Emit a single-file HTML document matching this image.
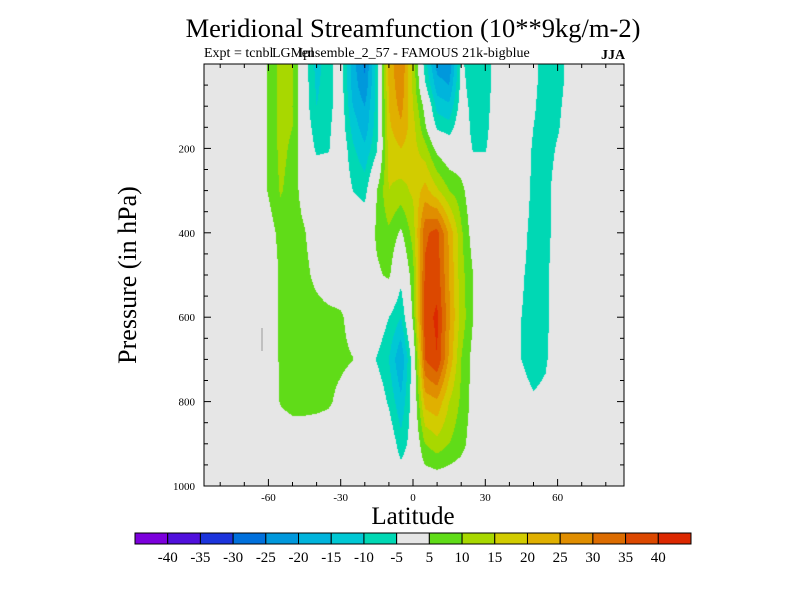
<!DOCTYPE html>
<html><head><meta charset="utf-8"><style>
body{margin:0;background:#fff;}
#wrap{position:relative;width:800px;height:600px;font-family:"Liberation Serif",serif;}
.t{position:absolute;white-space:nowrap;color:#000;}
</style></head><body>
<div id="wrap">
<div class="t" style="left:0;width:826px;text-align:center;top:13px;font-size:26.5px;">Meridional Streamfunction (10**9kg/m-2)</div>
<div class="t" style="left:204px;top:46px;font-size:14px;">Expt = tcnbl&nbsp;&nbsp;&nbsp;&nbsp;&nbsp;&nbsp;&nbsp;lensemble_2_57 - FAMOUS 21k-bigblue</div>
<div class="t" style="left:272px;top:46px;font-size:14px;">LGMpl</div>
<div class="t" style="left:601px;top:48px;font-size:14px;font-weight:bold;">JJA</div>
<div class="t" style="left:128px;top:275px;font-size:26px;transform:translate(-50%,-50%) rotate(-90deg);">Pressure (in hPa)</div>
<div class="t" style="left:0;width:826px;text-align:center;top:503px;font-size:25px;">Latitude</div>
<canvas id="cv" width="420" height="422" style="position:absolute;left:204px;top:64px;"></canvas>
<svg id="sv" width="800" height="600" style="position:absolute;left:0;top:0;"></svg>
</div>
<script>
const lats=[-70,-65,-60,-55,-50,-45,-40,-35,-30,-25,-20,-15,-10,-5,0,5,10,15,20,25,30,35,40,45,50,55,60,65,70];
const plevs=[0,50,100,150,200,300,400,500,600,700,800,900,1000];
const field=[
[0,0,5.5,12,10,-2,-12,-7,-2,-18,-26,-8,22,30,14,-8,-22,-24,-4,-8,-9,-1,0,0,-3,-9,-8,-2,0],
[0,0,5.5,12,10,-2,-11,-7,-2,-17,-24,-8,21,29,14,-4,-18,-20,-3,-8,-8.5,-1,0,0,-3,-9,-8,-2,0],
[0,0,5.5,12,10,-2,-10,-7,-1,-15,-20,-8,20,27,15,3,-12,-14,-2,-7,-8,0,0,0,-4,-9,-7,-1,0],
[0,0,5.5,12,10,-1,-8,-6,-1,-12,-18,-7,19,24,17,6,-6,-8,0,-7,-7,0,0,0,-5,-9,-6,0,0],
[0,0,5.5,11.5,9,0,-6,-5.5,0,-9,-14,-6,17,20,17,12,3,0,0,-5.5,-5.5,0,0,0,-6,-9,-4,0,0],
[0,0,5.5,10.5,8,2,0,0,0,-5,-7,5,15,13,16,22,16,10,7,0,0,0,0,0,-7,-8,-1,0,0],
[0,0,2,7,8,5.5,0,0,0,0,0,6,9,4,12,34,37,24,11,2,0,0,0,-2,-8,-8,-1,0,0],
[0,0,0,6,8,7,3,0,0,0,0,4,6,-3,8,36,38,25,12,5,0,0,0,-4,-8,-7,0,0,0],
[0,0,0,6,8,8,8,7,6,2,0,0,-5,-10,6,38,41,26,13,5,0,0,0,-5,-8,-7,0,0,0],
[0,0,0,6,8,8,8,7,6.5,5.2,0,-5.5,-10,-20,-2,35,40,24,10,3,0,0,0,-5,-8,-6,0,0,0],
[0,0,0,5.5,7.5,7.5,7,6,3,0,0,0,-6,-14,-2,22,24,15,9,3,0,0,0,-2,-4,-3,0,0,0],
[0,0,0,0,0,0,0,0,0,0,0,0,0,-8,-2,10,13,10,7,2,0,0,0,0,0,0,0,0,0],
[0,0,0,0,0,0,0,0,0,0,0,0,0,0,0,0,0,0,0,0,0,0,0,0,0,0,0,0,0]];
const levels=[-40,-35,-30,-25,-20,-15,-10,-5,5,10,15,20,25,30,35,40];
const colors=["#7c00dc","#5010dc","#1c34dc","#0070dc","#0098dc","#00b4dc","#00c8d4","#00d8b4","#e6e6e6","#60dc18","#a8d800","#d2cc00","#e0b000","#e08e00","#dc6c00","#dc4800","#dc2800"];
const xTicks=[-60,-30,0,30,60];
const yTicks=[200,400,600,800,1000];
const X0=204,X1=624,Y0=64,Y1=486;
function xS(lat){return 413+lat*2.41;}
function yS(p){return Y0+(p/1000)*(Y1-Y0);}
function latAt(px){return (px-413)/2.41;}
function pAt(py){return (py-Y0)/(Y1-Y0)*1000;}
function idx(arr,v){for(let i=0;i<arr.length-1;i++){if(v<=arr[i+1])return i;}return arr.length-2;}
function val(lat,p){
  if(lat<lats[0]||lat>lats[lats.length-1])return 0;
  const i=idx(lats,lat),j=idx(plevs,p);
  const tx=(lat-lats[i])/(lats[i+1]-lats[i]),ty=(p-plevs[j])/(plevs[j+1]-plevs[j]);
  const a=field[j][i],b=field[j][i+1],c=field[j+1][i],d=field[j+1][i+1];
  return (a*(1-tx)+b*tx)*(1-ty)+(c*(1-tx)+d*tx)*ty;
}
function colorOf(v){let k=0;while(k<levels.length&&v>=levels[k])k++;return colors[k];}
function hex(c){return [parseInt(c.substr(1,2),16),parseInt(c.substr(3,2),16),parseInt(c.substr(5,2),16)];}
const cv=document.getElementById('cv'),ctx=cv.getContext('2d');
const img=ctx.createImageData(420,422);
for(let y=0;y<422;y++){for(let x=0;x<420;x++){
  const v=val(latAt(X0+x+0.5),pAt(Y0+y+0.5));
  const c=hex(colorOf(v));const o=(y*420+x)*4;
  img.data[o]=c[0];img.data[o+1]=c[1];img.data[o+2]=c[2];img.data[o+3]=255;}}
ctx.putImageData(img,0,0);
const NS='http://www.w3.org/2000/svg',sv=document.getElementById('sv');
function mk(t,at,parent){const e=document.createElementNS(NS,t);for(const k in at)e.setAttribute(k,at[k]);(parent||sv).appendChild(e);return e;}
const frame=mk('rect',{x:X0,y:Y0,width:X1-X0,height:Y1-Y0,fill:'none',stroke:'#000','stroke-width':1});


for(let lat=-80;lat<=80;lat+=10){
  const major=xTicks.includes(lat);const L=major?7:4;const x=xS(lat);
  const t1=mk('line',{x1:x,y1:Y1,x2:x,y2:Y1-L,stroke:'#000'});
  
  
  const t2=mk('line',{x1:x,y1:Y0,x2:x,y2:Y0+L,stroke:'#000'});
  
  
}
xTicks.forEach(lat=>{
  const t=mk('text',{x:xS(lat),y:501,'font-size':11,'text-anchor':'middle','font-family':'Liberation Serif, serif'});
  t.textContent=lat;
  
  
});
for(let p=50;p<=1000;p+=50){
  const major=yTicks.includes(p);const L=major?7:4;const y=yS(p);
  const t1=mk('line',{x1:X0,y1:y,x2:X0+L,y2:y,stroke:'#000'});
  
  
  const t2=mk('line',{x1:X1,y1:y,x2:X1-L,y2:y,stroke:'#000'});
  
  
}
yTicks.forEach(p=>{
  const t=mk('text',{x:195,y:yS(p)+4,'font-size':11,'text-anchor':'end','font-family':'Liberation Serif, serif'});
  t.textContent=p;
  
  
});
const stray=mk('line',{x1:262,y1:328,x2:262,y2:351,stroke:'#999'});


const CB0=135,CB1=691,bw=(CB1-CB0)/colors.length;
colors.forEach((c,k)=>{
  const r=mk('rect',{x:CB0+k*bw,y:533,width:bw,height:11,fill:c,stroke:'#000','stroke-width':1});
  
  
});
levels.forEach((l,k)=>{
  const t=mk('text',{x:CB0+(k+1)*bw,y:562,'font-size':15,'text-anchor':'middle','font-family':'Liberation Serif, serif'});
  t.textContent=l;
  
  
});
</script>
</body></html>
